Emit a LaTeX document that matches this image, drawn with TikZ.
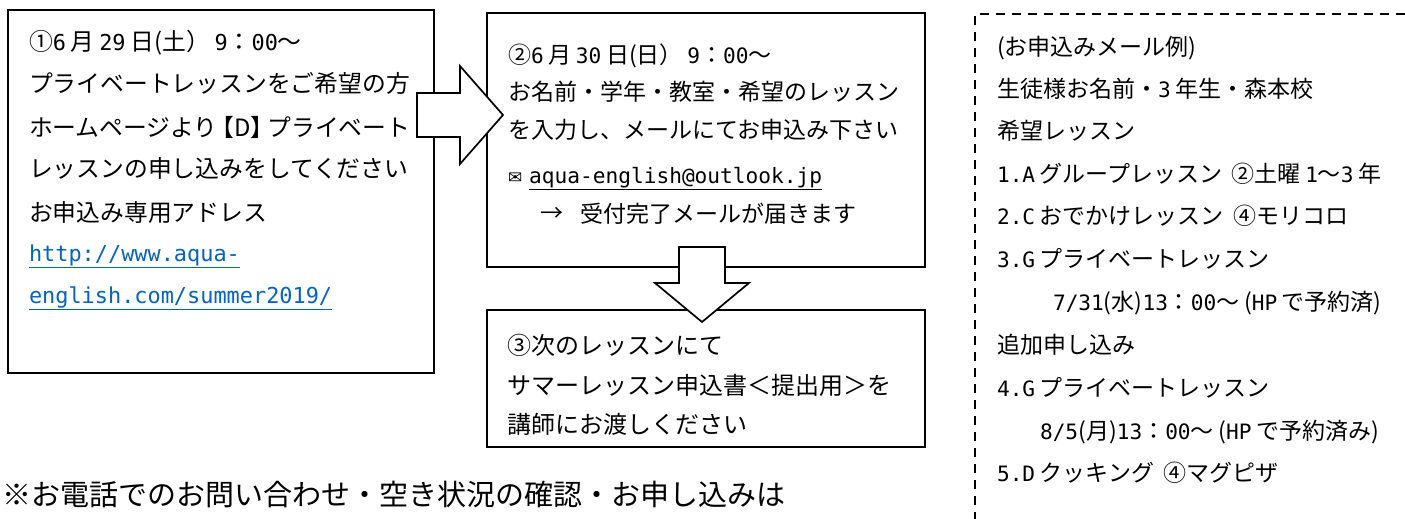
\documentclass[tikz,border=0pt]{standalone}
\usepackage{fontspec}
\setmainfont{Noto Sans CJK JP}
\newfontfamily\hwfont{DejaVu Sans Mono}[Scale=0.92]
\newfontfamily\symfont{DejaVu Sans}
\newcommand\hw[1]{{\hwfont #1}}
\newcommand\gp{\hspace{.2em}}
\newcommand\ulx[1]{\setbox0=\hbox{#1}\rlap{\rule[\dimexpr-\dp0-2.5pt\relax]{\wd0}{1.5pt}}\box0}
\definecolor{linkblue}{RGB}{5,99,193}
\tikzset{
  box/.style={draw, line width=1.7pt, rectangle, inner sep=0pt},
  blockarrow/.style={draw, line width=1.7pt, fill=white, line join=miter},
  dashbox/.style={draw, line width=1.5pt, dash pattern=on 9pt off 7pt},
  txt/.style={anchor=base west, inner sep=0pt, outer sep=0pt},
  tA/.style={txt, font=\fontsize{23.8}{28}\selectfont},
  tB/.style={txt, font=\fontsize{23}{28}\selectfont},
  tC/.style={txt, font=\fontsize{24}{28}\selectfont},
  tR/.style={txt, font=\fontsize{23}{28}\selectfont},
  tN/.style={txt, font=\fontsize{29}{34}\selectfont},
}
\begin{document}
\begin{tikzpicture}[x=1pt,y=-1pt]
\useasboundingbox (0,0) rectangle (1405,519);
\fill[white] (0,0) rectangle (1405,519);

% boxes
\node[box, minimum width=426pt, minimum height=363pt] (b1) at (221,191.5) {};
\node[box, minimum width=438pt, minimum height=254pt] (b2) at (706,140) {};
\node[box, minimum width=438pt, minimum height=137pt] (b3) at (706,378.5) {};
\coordinate (dTR) at (1405,14);
\coordinate (dTL) at (975,14);
\coordinate (dBL) at (975,519);
\draw[dashbox] (dTR) -- (dTL) -- (dBL);

% block arrows
\draw[blockarrow] (417,93) -- (460,93) -- (460,66) -- (503,115) -- (460,164) -- (460,137) -- (417,137) -- cycle;
\draw[blockarrow] (679,247) -- (679,283) -- (655,283) -- (702,322) -- (749,283) -- (725,283) -- (725,247) -- cycle;

% box 1 text
\node[tA] (a1) at (29,51) {①\hw{6}\gp 月\gp\hw{29}\gp 日(土）\gp\hw{9}：\hw{00}～};
\node[tA] (a2) at (29,92.5) {プライベートレッスンをご希望の方};
\node[tA] (a3) at (29,136) {ホームページより\hspace{-.3em}【D】\hspace{-.3em}プライベート};
\node[tA] (a4) at (29,177) {レッスンの申し込みをしてください};
\node[tA] (a5) at (29,221) {お申込み専用アドレス};
\node[tA, text=linkblue] (a6) at (29,261) {\ulx{\hw{http://www.aqua-}}};
\node[tA, text=linkblue] (a7) at (29,303) {\ulx{\hw{english.com/summer2019/}}};

% box 2 text
\node[tB] (c1) at (508,63.6) {②\hw{6}\gp 月\gp\hw{30}\gp 日(日）\gp\hw{9}：\hw{00}～};
\node[tB] (c2) at (508,100.6) {お名前・学年・教室・希望のレッスン};
\node[tB] (c3) at (508,138.6) {を入力し、メールにてお申込み下さい};
\node[tB] (c4) at (508,183) {{\symfont\fontsize{17}{20}\selectfont ✉}\hspace{.3em}\ulx{\hw{aqua-english@outlook.jp}}};
\node[inner sep=0pt, font=\fontsize{23}{28}\selectfont] (c5a) at (552,214) {→};
\node[tB] (c5) at (580,222.6) {受付完了メールが届きます};

% box 3 text
\node[tC] (d1) at (507,354) {③次のレッスンにて};
\node[tC] (d2) at (507,394) {サマーレッスン申込書＜提出用＞を};
\node[tC] (d3) at (507,433) {講師にお渡しください};

% right panel text
\node[tR] (r1) at (997,55.6) {(お申込みメール例)};
\node[tR] (r2) at (997,97.6) {生徒様お名前・\hw{3}\gp 年生・森本校};
\node[tR] (r3) at (997,139.6) {希望レッスン};
\node[tR] (r4) at (997,182) {\hw{1.A}\gp グループレッスン\hspace{.4em}②土曜\gp\hw{1}～\hw{3}\gp 年};
\node[tR] (r5) at (997,224.6) {\hw{2.C}\gp おでかけレッスン\hspace{.4em}④モリコロ};
\node[tR] (r6) at (997,267.6) {\hw{3.G}\gp プライベートレッスン};
\node[tR] (r7) at (1053,310.6) {\hw{7/31}(水)\hw{13}：\hw{00}～\gp(\hw{HP}\gp で予約済)};
\node[tR] (r8) at (997,353.6) {追加申し込み};
\node[tR] (r9) at (997,396.6) {\hw{4.G}\gp プライベートレッスン};
\node[tR] (r10) at (1040,439.6) {\hw{8/5}(月)\hw{13}：\hw{00}～\gp(\hw{HP}\gp で予約済み)};
\node[tR] (r11) at (997,481.6) {\hw{5.D}\gp クッキング\hspace{.4em}④マグピザ};

% note
\node[tN] (n1) at (2,505) {※お電話でのお問い合わせ・空き状況の確認・お申し込みは};
\end{tikzpicture}
\end{document}
